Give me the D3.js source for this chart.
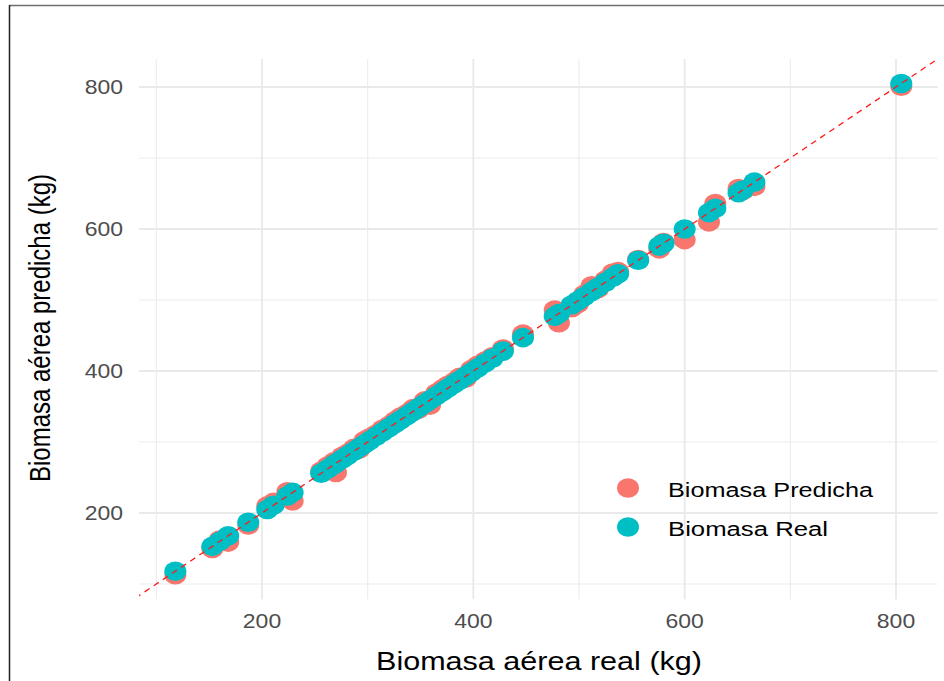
<!DOCTYPE html>
<html>
<head>
<meta charset="utf-8">
<script src="https://cdn.jsdelivr.net/npm/d3@7"></script>
<style>
  html, body { margin: 0; padding: 0; background: #fff; }
  svg { display: block; }
  text { font-family: "Liberation Sans", Arial, sans-serif; }
</style>
</head>
<body>
<svg id="chart" width="944" height="681"></svg>
<script>
// ---- data ----
const seriesNames = ["Biomasa Predicha", "Biomasa Real"];
const seriesColors = ["#F8766D", "#00BFC4"];
const realValues = [118, 153, 160, 168, 187, 205, 211, 224, 229,
  256, 262, 268, 270, 276, 281, 287, 292, 297, 302, 308, 314, 320, 326, 331, 337,
  343, 348, 354, 359, 365, 371, 376, 382, 387, 393, 398, 404, 411, 418, 428,
  447, 477, 481, 493, 499, 505, 512, 518, 525, 532, 537, 556, 576, 580, 600,
  623, 629, 651, 655, 666, 805];
const predValues = [113, 150, 162, 159, 183, 210, 215, 230, 217,
  259, 266, 272, 257, 280, 284, 291, 290, 302, 306, 311, 318, 323, 330, 335, 340,
  347, 346, 358, 352, 369, 375, 380, 385, 391, 390, 402, 408, 414, 420, 431,
  452, 486, 468, 489, 495, 508, 520, 516, 528, 538, 540, 557, 572, 581, 585,
  610, 636, 657, 654, 660, 801];
const majorTicks = [200, 400, 600, 800];
const minorTicks = [100, 300, 500, 700];
const xTitle = "Biomasa aérea real (kg)";
const yTitle = "Biomasa aérea predicha (kg)";

// ---- scales ----
const svg = d3.select("#chart");
const x = d3.scaleLinear().domain([200, 800]).range([262, 896]);
const y = d3.scaleLinear().domain([200, 800]).range([513, 87]);

const xExt = d3.extent(realValues);
const yExt = d3.extent(realValues.concat(predValues));
const xPad = (xExt[1] - xExt[0]) * 0.05, yPad = (yExt[1] - yExt[0]) * 0.05;
const xDom = [xExt[0] - xPad, xExt[1] + xPad];
const yDom = [yExt[0] - yPad, yExt[1] + yPad];
const px0 = x(xDom[0]), px1 = x(xDom[1]);
const py0 = y(yDom[0]), py1 = y(yDom[1]);

// frame
svg.append("line").attr("x1", 9).attr("x2", 944).attr("y1", 5.5).attr("y2", 5.5)
  .attr("stroke", "#6e6e6e").attr("stroke-width", 1.5);
svg.append("line").attr("x1", 9.5).attr("x2", 9.5).attr("y1", 5).attr("y2", 681)
  .attr("stroke", "#222").attr("stroke-width", 1.5);

svg.append("clipPath").attr("id", "panel").append("rect")
  .attr("x", px0).attr("y", py1).attr("width", px1 - px0).attr("height", py0 - py1);

const grid = svg.append("g");
// minor grid
grid.selectAll(".vminor").data(minorTicks.filter(t => t >= xDom[0] && t <= xDom[1])).join("line")
  .attr("x1", d => x(d)).attr("x2", d => x(d)).attr("y1", py1).attr("y2", py0)
  .attr("stroke", "#ececec").attr("stroke-width", 1.1);
grid.selectAll(".hminor").data(minorTicks.filter(t => t >= yDom[0] && t <= yDom[1])).join("line")
  .attr("y1", d => y(d)).attr("y2", d => y(d)).attr("x1", px0).attr("x2", px1)
  .attr("stroke", "#ececec").attr("stroke-width", 1.1);
// major grid
grid.selectAll(".vmajor").data(majorTicks).join("line")
  .attr("x1", d => x(d)).attr("x2", d => x(d)).attr("y1", py1).attr("y2", py0)
  .attr("stroke", "#e9e9e9").attr("stroke-width", 1.8);
grid.selectAll(".hmajor").data(majorTicks).join("line")
  .attr("y1", d => y(d)).attr("y2", d => y(d)).attr("x1", px0).attr("x2", px1)
  .attr("stroke", "#e9e9e9").attr("stroke-width", 1.8);

// points
const RX = 11, RY = 9.8;
const pts = svg.append("g").attr("clip-path", "url(#panel)");
pts.selectAll(".pred").data(realValues.map((r, i) => [r, predValues[i]])).join("ellipse")
  .attr("cx", d => x(d[0])).attr("cy", d => y(d[1])).attr("rx", RX).attr("ry", RY)
  .attr("fill", seriesColors[0]);
pts.selectAll(".real").data(realValues).join("ellipse")
  .attr("cx", d => x(d)).attr("cy", d => y(d)).attr("rx", RX).attr("ry", RY)
  .attr("fill", seriesColors[1]);

// identity line
const lo = Math.min(xDom[0], yDom[0]) - 50, hi = Math.max(xDom[1], yDom[1]) + 50;
pts.append("line")
  .attr("x1", x(lo)).attr("y1", y(lo)).attr("x2", x(hi)).attr("y2", y(hi))
  .attr("stroke", "#ff1a1a").attr("stroke-width", 1.3).attr("stroke-dasharray", "6,5");

// tick labels
const xAxis = svg.append("g");
xAxis.selectAll("text").data(majorTicks).join("text")
  .attr("transform", d => `translate(${x(d)},628) scale(1.15,1)`)
  .attr("text-anchor", "middle").attr("font-size", 20).attr("fill", "#4d4d4d")
  .text(d => d);
const yAxis = svg.append("g");
yAxis.selectAll("text").data(majorTicks).join("text")
  .attr("transform", d => `translate(123,${y(d) + 7}) scale(1.15,1)`)
  .attr("text-anchor", "end").attr("font-size", 20).attr("fill", "#4d4d4d")
  .text(d => d);

// axis titles
svg.append("text").attr("x", 376).attr("y", 670).attr("font-size", 25).attr("fill", "#000")
  .attr("textLength", 326).attr("lengthAdjust", "spacingAndGlyphs").text(xTitle);
svg.append("text")
  .attr("transform", "translate(50,328) scale(1.2,1) rotate(-90)")
  .attr("text-anchor", "middle").attr("font-size", 24).attr("fill", "#000")
  .text(yTitle);

// legend
const legend = svg.append("g");
const legY = [488, 527];
seriesNames.forEach((name, i) => {
  legend.append("ellipse").attr("cx", 628).attr("cy", legY[i]).attr("rx", RX).attr("ry", RY)
    .attr("fill", seriesColors[i]);
  legend.append("text").attr("x", 668).attr("y", legY[i] + 9).attr("font-size", 20)
    .attr("fill", "#000")
    .attr("textLength", i === 0 ? 205 : 160).attr("lengthAdjust", "spacingAndGlyphs")
    .text(name);
});
</script>
</body>
</html>
